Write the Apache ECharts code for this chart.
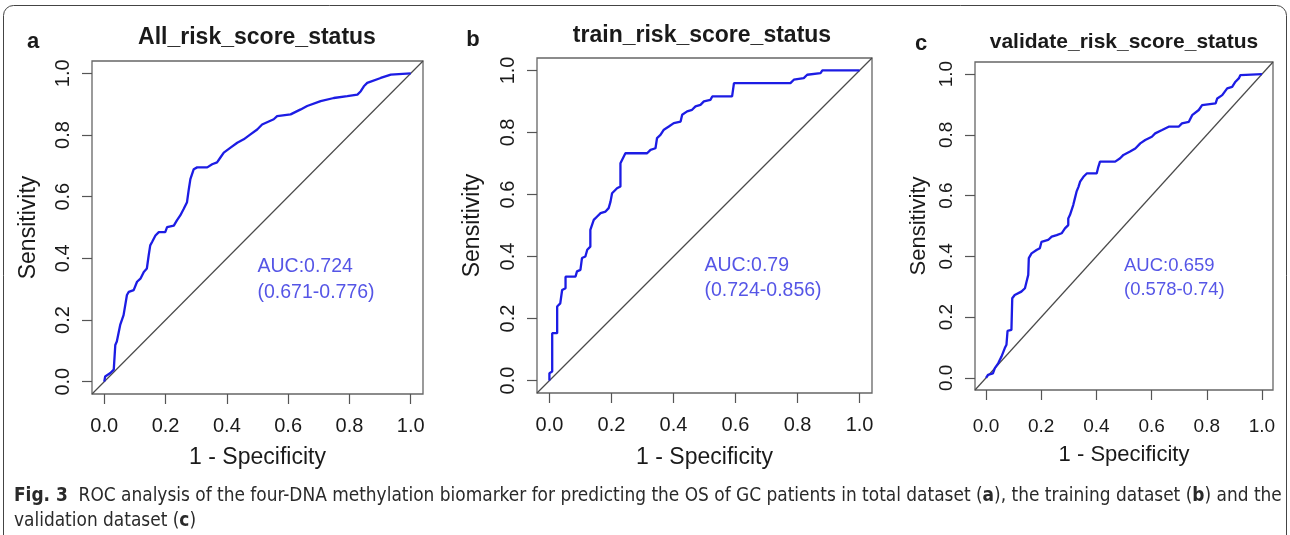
<!DOCTYPE html>
<html><head><meta charset="utf-8">
<script src="https://cdn.jsdelivr.net/npm/echarts@6/dist/echarts.min.js"></script>
<style>html,body{margin:0;padding:0;background:#fff}#c{width:1290px;height:535px}</style>
</head><body><div id="c"></div>
<script>
// ---------- data ----------
const tickValues = [0, 0.2, 0.4, 0.6, 0.8, 1.0];
const axisLimits = [-0.04, 1.04];
const panelLetters = ['a', 'b', 'c'];
const panelTitles = ['All_risk_score_status', 'train_risk_score_status', 'validate_risk_score_status'];
const xAxisTitle = '1 - Specificity';
const yAxisTitle = 'Sensitivity';
const aucTexts = [['AUC:0.724', '(0.671-0.776)'], ['AUC:0.79', '(0.724-0.856)'], ['AUC:0.659', '(0.578-0.74)']];
const aucAnchor = [0.5, 0.33];

const allFpr = [0, 0.003, 0.020, 0.031, 0.036, 0.041, 0.052, 0.063, 0.074, 0.080, 0.096, 0.107, 0.118, 0.129, 0.139, 0.145, 0.150, 0.156, 0.167, 0.178, 0.199, 0.205, 0.227, 0.237, 0.248, 0.259, 0.270, 0.276, 0.281, 0.292, 0.303, 0.336, 0.352, 0.368, 0.379, 0.390, 0.412, 0.434, 0.455, 0.477, 0.499, 0.515, 0.553, 0.564, 0.608, 0.641, 0.662, 0.706, 0.749, 0.793, 0.826, 0.837, 0.847, 0.858, 0.902, 0.935, 1.0];
const allTpr = [0, 0.017, 0.028, 0.039, 0.119, 0.130, 0.184, 0.216, 0.281, 0.291, 0.297, 0.324, 0.334, 0.356, 0.367, 0.410, 0.442, 0.453, 0.474, 0.485, 0.485, 0.501, 0.506, 0.523, 0.539, 0.560, 0.582, 0.625, 0.657, 0.689, 0.695, 0.695, 0.705, 0.711, 0.727, 0.743, 0.759, 0.775, 0.786, 0.802, 0.818, 0.834, 0.851, 0.861, 0.867, 0.883, 0.894, 0.910, 0.920, 0.926, 0.931, 0.942, 0.958, 0.969, 0.985, 0.996, 1.0];

const trainFpr = [0, 0, 0.009, 0.009, 0.025, 0.025, 0.035, 0.041, 0.052, 0.052, 0.084, 0.089, 0.100, 0.105, 0.116, 0.122, 0.132, 0.132, 0.143, 0.154, 0.165, 0.181, 0.191, 0.197, 0.202, 0.218, 0.229, 0.229, 0.245, 0.315, 0.326, 0.342, 0.347, 0.358, 0.369, 0.385, 0.401, 0.423, 0.428, 0.444, 0.460, 0.471, 0.487, 0.498, 0.519, 0.525, 0.589, 0.595, 0.777, 0.788, 0.820, 0.831, 0.874, 0.880, 1.0];
const trainTpr = [0, 0.024, 0.029, 0.153, 0.153, 0.239, 0.249, 0.292, 0.298, 0.335, 0.335, 0.352, 0.357, 0.395, 0.400, 0.422, 0.432, 0.486, 0.518, 0.529, 0.540, 0.545, 0.556, 0.577, 0.604, 0.620, 0.626, 0.701, 0.733, 0.733, 0.744, 0.749, 0.782, 0.792, 0.809, 0.819, 0.830, 0.835, 0.857, 0.868, 0.873, 0.884, 0.889, 0.900, 0.905, 0.916, 0.916, 0.959, 0.959, 0.970, 0.975, 0.986, 0.991, 1.0, 1.0];

const validFpr = [0, 0.007, 0.025, 0.032, 0.044, 0.056, 0.068, 0.074, 0.078, 0.092, 0.095, 0.104, 0.128, 0.141, 0.147, 0.153, 0.155, 0.165, 0.183, 0.195, 0.201, 0.225, 0.238, 0.256, 0.274, 0.286, 0.298, 0.298, 0.304, 0.316, 0.322, 0.328, 0.335, 0.341, 0.353, 0.365, 0.401, 0.407, 0.413, 0.468, 0.486, 0.498, 0.522, 0.541, 0.559, 0.577, 0.601, 0.613, 0.638, 0.662, 0.698, 0.710, 0.735, 0.747, 0.771, 0.783, 0.832, 0.838, 0.856, 0.874, 0.892, 0.904, 0.916, 0.922, 1.0];
const validTpr = [0, 0.010, 0.015, 0.032, 0.048, 0.070, 0.098, 0.109, 0.155, 0.158, 0.262, 0.273, 0.284, 0.295, 0.317, 0.339, 0.394, 0.410, 0.421, 0.427, 0.448, 0.454, 0.465, 0.470, 0.476, 0.492, 0.503, 0.525, 0.536, 0.569, 0.591, 0.613, 0.629, 0.646, 0.662, 0.673, 0.673, 0.695, 0.712, 0.712, 0.723, 0.734, 0.745, 0.755, 0.772, 0.783, 0.794, 0.805, 0.816, 0.827, 0.827, 0.838, 0.843, 0.865, 0.882, 0.898, 0.904, 0.920, 0.931, 0.953, 0.958, 0.975, 0.986, 0.997, 1.0];

const rocFpr = [allFpr, trainFpr, validFpr];
const rocTpr = [allTpr, trainTpr, validTpr];

// ---------- layout / style ----------
const FONT = '"Liberation Sans", Arial, sans-serif';
const layout = [
  { left: 92, top: 61, width: 331, height: 333, lab: 20, name: 23, auc: 19.5, aucLH: 26, title: 23, nameGapX: 52, nameGapY: 52, marginX: 22,
    letter: [33, 42], titlePos: [257, 38] },
  { left: 537, top: 58, width: 335, height: 335, lab: 20, name: 23, auc: 19.5, aucLH: 25, title: 23, nameGapX: 53, nameGapY: 53, marginX: 22,
    letter: [473, 40], titlePos: [702, 36] },
  { left: 975, top: 62, width: 298, height: 328, lab: 19, name: 22, auc: 18.5, aucLH: 24, title: 21, nameGapX: 54, nameGapY: 45, marginX: 27,
    letter: [921, 44], titlePos: [1124, 42] }
];
const CURVE = '#1c1ce4';
const AUC_COLOR = '#2a2ae0';
const AXIS_COLOR = '#555';

const grids = [], xAxes = [], yAxes = [], series = [], graphics = [];
layout.forEach((L, i) => {
  grids.push({ left: L.left, top: L.top, width: L.width, height: L.height, show: true,
    borderColor: '#666', borderWidth: 1.3, backgroundColor: 'transparent', containLabel: false });
  const common = (isX) => ({
    type: 'value', gridIndex: i, min: axisLimits[0], max: axisLimits[1],
    position: isX ? 'bottom' : 'left',
    name: isX ? xAxisTitle : yAxisTitle, nameLocation: 'middle', nameGap: isX ? L.nameGapX : L.nameGapY,
    nameTextStyle: { fontFamily: FONT, fontSize: L.name, color: '#1a1a1a' },
    axisLine: { show: false, onZero: false },
    splitLine: { show: false },
    axisTick: { show: true, inside: false, length: 10, customValues: tickValues, lineStyle: { color: AXIS_COLOR, width: 1.2 } },
    axisLabel: { show: true, customValues: tickValues, margin: isX ? L.marginX : 19, rotate: isX ? 0 : 90,
      fontFamily: FONT, fontSize: L.lab, color: '#1a1a1a', formatter: v => v.toFixed(1) }
  });
  xAxes.push(common(true));
  yAxes.push(common(false));
  series.push({ type: 'line', xAxisIndex: i, yAxisIndex: i, silent: true, symbol: 'none', clip: false,
    data: [[axisLimits[0], axisLimits[0]], [axisLimits[1], axisLimits[1]]],
    lineStyle: { color: '#4a4a4a', width: 1.2 }, z: 2 });
  series.push({ type: 'line', xAxisIndex: i, yAxisIndex: i, silent: true, symbol: 'none', clip: false,
    data: rocFpr[i].map((x, k) => [x, rocTpr[i][k]]),
    lineStyle: { color: CURVE, width: 2.3 }, z: 3 });
  series.push({ type: 'scatter', xAxisIndex: i, yAxisIndex: i, silent: true, symbolSize: 0,
    data: [aucAnchor],
    label: { show: true, position: [0, 0], align: 'left', verticalAlign: 'middle',
      formatter: aucTexts[i].join('\n'), fontFamily: FONT, fontSize: L.auc, lineHeight: L.aucLH, color: AUC_COLOR } });
  graphics.push({ type: 'text', x: L.letter[0], y: L.letter[1], style: { text: panelLetters[i], font: 'bold 22px ' + FONT,
    fill: '#1a1a1a', align: 'center', verticalAlign: 'middle' } });
  graphics.push({ type: 'text', x: L.titlePos[0], y: L.titlePos[1], style: { text: panelTitles[i], font: 'bold ' + L.title + 'px ' + FONT,
    fill: '#1a1a1a', align: 'center', verticalAlign: 'middle' } });
});

const CAP_FONT = '"Liberation Sans Narrow", "DejaVu Sans Condensed", "Liberation Sans", sans-serif';
const CAP_SIZE = 18.9;
graphics.push({ type: 'rect', shape: { x: 3.5, y: 5.5, width: 1283, height: 620, r: 10 },
  style: { fill: 'none', stroke: '#444', lineWidth: 1 } });
graphics.push({ type: 'text', x: 14, y: 496, style: {
  text: '{b|Fig. 3}  ROC analysis of the four-DNA methylation biomarker for predicting the OS of GC patients in total dataset ({b|a}), the training dataset ({b|b}) and the',
  fontFamily: CAP_FONT, fontSize: CAP_SIZE, fill: '#2a2a2a', verticalAlign: 'middle',
  rich: { b: { fontFamily: CAP_FONT, fontSize: CAP_SIZE, fontWeight: 'bold', fill: '#2a2a2a' } } } });
graphics.push({ type: 'text', x: 14, y: 521, style: {
  text: 'validation dataset ({b|c})',
  fontFamily: CAP_FONT, fontSize: CAP_SIZE, fill: '#2a2a2a', verticalAlign: 'middle',
  rich: { b: { fontFamily: CAP_FONT, fontSize: CAP_SIZE, fontWeight: 'bold', fill: '#2a2a2a' } } } });

const chart = echarts.init(document.getElementById('c'), null, { renderer: 'canvas' });
chart.setOption({
  animation: false,
  backgroundColor: '#fff',
  grid: grids, xAxis: xAxes, yAxis: yAxes, series: series,
  graphic: { elements: graphics }
});
</script></body></html>
